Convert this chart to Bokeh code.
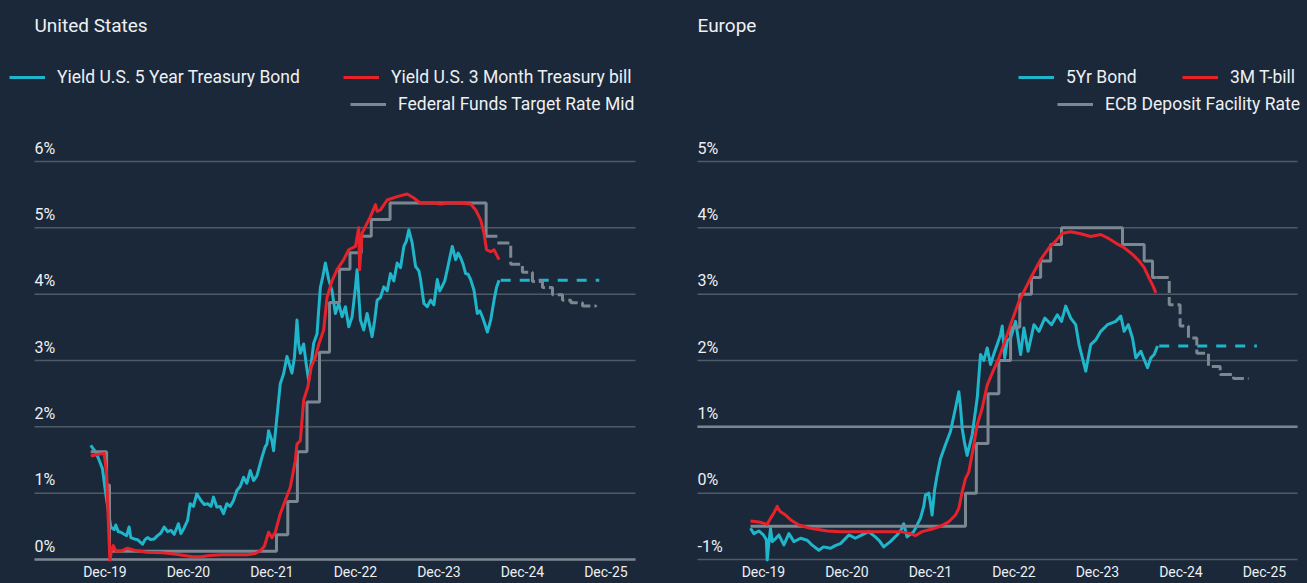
from bokeh.plotting import figure
from bokeh.models import Legend, LegendItem, FixedTicker, Range1d, Label
from bokeh.layouts import row
from bokeh.embed import file_html
from bokeh.resources import INLINE
from bokeh.core.properties import value

# ---------------- data (decimal years, percent) ----------------
x_tick_pos = [2020.15, 2021.15, 2022.15, 2023.15, 2024.15, 2025.15, 2026.15]
x_tick_labels = ["Dec-19", "Dec-20", "Dec-21", "Dec-22", "Dec-23", "Dec-24", "Dec-25"]

us_grid = [0, 1, 2, 3, 4, 5, 6]
us_grid_labels = ["0%", "1%", "2%", "3%", "4%", "5%", "6%"]
eu_grid = [-1, 0, 1, 2, 3, 4, 5]
eu_grid_labels = ["-1%", "0%", "1%", "2%", "3%", "4%", "5%"]

us_5y_t = [2019.98, 2020.04, 2020.08, 2020.12, 2020.16, 2020.22, 2020.26, 2020.28, 2020.31, 2020.34,
           2020.38, 2020.41, 2020.44, 2020.46, 2020.50, 2020.54, 2020.60, 2020.63, 2020.66, 2020.70,
           2020.74, 2020.78, 2020.82, 2020.86, 2020.90, 2020.94, 2020.98, 2021.03, 2021.06, 2021.10,
           2021.14, 2021.17, 2021.21, 2021.25, 2021.30, 2021.34, 2021.38, 2021.42, 2021.45, 2021.49,
           2021.53, 2021.57, 2021.61, 2021.65, 2021.69, 2021.73, 2021.77, 2021.81, 2021.85, 2021.89,
           2021.93, 2021.97, 2022.03, 2022.07, 2022.09, 2022.11, 2022.15, 2022.17, 2022.21, 2022.25,
           2022.29, 2022.33, 2022.39, 2022.42, 2022.45, 2022.47, 2022.49, 2022.53, 2022.56, 2022.59,
           2022.62, 2022.65, 2022.69, 2022.71, 2022.73, 2022.76, 2022.79, 2022.83, 2022.87, 2022.91,
           2022.95, 2022.99, 2023.03, 2023.07, 2023.11, 2023.15, 2023.17, 2023.21, 2023.25, 2023.29,
           2023.35, 2023.38, 2023.41, 2023.45, 2023.49, 2023.53, 2023.57, 2023.61, 2023.65, 2023.69,
           2023.73, 2023.76, 2023.79, 2023.83, 2023.87, 2023.91, 2023.93, 2023.97, 2024.01, 2024.05,
           2024.09, 2024.13, 2024.16, 2024.19, 2024.22, 2024.25, 2024.28, 2024.31, 2024.35, 2024.38,
           2024.41, 2024.44, 2024.47, 2024.50, 2024.53, 2024.57, 2024.61, 2024.64, 2024.67, 2024.70,
           2024.73, 2024.77, 2024.81, 2024.84, 2024.87]
us_5y_v = [1.72, 1.62, 1.50, 1.37, 0.99, 0.49, 0.45, 0.52, 0.42, 0.41,
           0.38, 0.36, 0.49, 0.33, 0.31, 0.30, 0.23, 0.30, 0.33, 0.30,
           0.31, 0.36, 0.40, 0.49, 0.42, 0.44, 0.38, 0.54, 0.39, 0.48,
           0.59, 0.84, 0.80, 0.99, 0.89, 0.83, 0.84, 0.80, 0.94, 0.79,
           0.80, 0.69, 0.84, 0.80, 0.89, 1.04, 1.10, 1.24, 1.15, 1.34,
           1.19, 1.26, 1.54, 1.70, 1.74, 1.94, 1.79, 1.64, 2.15, 2.65,
           2.80, 3.06, 2.81, 3.05, 3.61, 3.25, 3.11, 3.25, 2.95, 2.70,
           2.95, 3.26, 3.40, 3.76, 4.10, 4.27, 4.47, 4.22, 4.05, 3.71,
           3.86, 3.66, 3.81, 3.51, 3.66, 4.10, 4.37, 3.61, 3.46, 3.71,
           3.36, 3.60, 3.91, 3.95, 4.11, 4.05, 4.31, 4.20, 4.47, 4.40,
           4.72, 4.80, 4.97, 4.77, 4.42, 4.35, 4.22, 3.86, 3.81, 3.91,
           3.84, 4.22, 4.05, 4.12, 4.20, 4.37, 4.55, 4.72, 4.52, 4.62,
           4.55, 4.45, 4.31, 4.30, 4.22, 4.06, 3.71, 3.75, 3.66, 3.55,
           3.43, 3.61, 3.91, 4.10, 4.21]

us_3m_t = [2019.98, 2020.05, 2020.14, 2020.17, 2020.19, 2020.21, 2020.23, 2020.25, 2020.28, 2020.35,
           2020.42, 2020.50, 2020.65, 2020.85, 2021.00, 2021.10, 2021.20, 2021.30, 2021.40, 2021.55,
           2021.70, 2021.85, 2021.95, 2022.01, 2022.06, 2022.11, 2022.15, 2022.19, 2022.25, 2022.31,
           2022.37, 2022.43, 2022.45, 2022.49, 2022.53, 2022.58, 2022.62, 2022.67, 2022.71, 2022.77,
           2022.81, 2022.87, 2022.93, 2023.01, 2023.07, 2023.15, 2023.19, 2023.20, 2023.23, 2023.33,
           2023.39, 2023.41, 2023.45, 2023.53, 2023.65, 2023.77, 2023.85, 2023.93, 2024.05, 2024.17,
           2024.29, 2024.41, 2024.53, 2024.59, 2024.65, 2024.69, 2024.72, 2024.77, 2024.81, 2024.85,
           2024.87]
us_3m_v = [1.56, 1.58, 1.60, 1.30, 0.60, -0.02, 0.15, 0.21, 0.13, 0.13,
           0.17, 0.14, 0.11, 0.10, 0.08, 0.06, 0.04, 0.04, 0.06, 0.07,
           0.07, 0.07, 0.09, 0.13, 0.20, 0.41, 0.33, 0.41, 0.69, 0.89,
           1.09, 1.49, 1.74, 1.79, 2.40, 2.60, 2.90, 3.05, 3.24, 3.46,
           3.95, 4.20, 4.37, 4.52, 4.67, 4.72, 5.00, 4.37, 4.92, 5.17,
           5.35, 5.25, 5.27, 5.42, 5.47, 5.51, 5.45, 5.37, 5.38, 5.36,
           5.38, 5.37, 5.36, 5.27, 5.12, 4.92, 4.67, 4.64, 4.67, 4.57,
           4.52]

us_fed_t = [2019.98, 2020.17, 2020.205, 2022.205, 2022.34, 2022.455, 2022.57, 2022.72, 2022.84,
            2022.96, 2023.085, 2023.22, 2023.34, 2023.565, 2024.715, 2024.85]
us_fed_v = [1.625, 1.125, 0.125, 0.375, 0.875, 1.625, 2.375, 3.125, 3.875,
            4.375, 4.625, 4.875, 5.125, 5.375, 4.875, 4.875]
us_fed_fc_t = [2024.85, 2025.01, 2025.15, 2025.27, 2025.39, 2025.51, 2025.63, 2025.73, 2025.87, 2026.03]
us_fed_fc_v = [4.77, 4.45, 4.33, 4.19, 4.10, 3.99, 3.91, 3.87, 3.82, 3.81]
us_5y_fc_t = [2024.89, 2026.07]
us_5y_fc_v = [4.21, 4.21]

eu_5y_t = [2019.995, 2020.035, 2020.095, 2020.15, 2020.185, 2020.195, 2020.215, 2020.235, 2020.255, 2020.30,
           2020.335, 2020.395, 2020.455, 2020.515, 2020.595, 2020.674, 2020.73, 2020.814, 2020.87, 2020.954,
           2021.01, 2021.073, 2021.12, 2021.173, 2021.25, 2021.33, 2021.41, 2021.49, 2021.54, 2021.59,
           2021.67, 2021.75, 2021.80, 2021.83, 2021.87, 2021.95, 2022.03, 2022.07, 2022.09, 2022.13,
           2022.15, 2022.17, 2022.20, 2022.23, 2022.27, 2022.33, 2022.39, 2022.45, 2022.49, 2022.51,
           2022.53, 2022.56, 2022.59, 2022.65, 2022.71, 2022.75, 2022.79, 2022.83, 2022.87, 2022.91,
           2022.95, 2022.99, 2023.01, 2023.04, 2023.07, 2023.11, 2023.17, 2023.23, 2023.27, 2023.32,
           2023.39, 2023.45, 2023.52, 2023.60, 2023.67, 2023.72, 2023.77, 2023.83, 2023.89, 2023.93,
           2023.99, 2024.01, 2024.07, 2024.13, 2024.19, 2024.27, 2024.37, 2024.43, 2024.47, 2024.52,
           2024.57, 2024.61, 2024.67, 2024.75, 2024.79, 2024.83, 2024.87]
eu_5y_v = [-0.53, -0.61, -0.57, -0.63, -0.70, -1.01, -0.75, -0.53, -0.73, -0.68,
           -0.63, -0.78, -0.61, -0.73, -0.68, -0.71, -0.78, -0.86, -0.81, -0.83,
           -0.79, -0.76, -0.70, -0.63, -0.68, -0.63, -0.58, -0.66, -0.72, -0.81,
           -0.73, -0.63, -0.55, -0.46, -0.66, -0.58, -0.38, -0.20, -0.03, 0.00,
           -0.15, -0.33, 0.05, 0.27, 0.52, 0.73, 0.93, 1.28, 1.53, 1.30,
           0.98, 0.75, 0.57, 0.88, 1.43, 2.09, 2.00, 2.19, 1.94, 2.10,
           2.24, 2.39, 2.52, 2.04, 2.30, 2.34, 2.59, 2.09, 2.49, 2.14,
           2.54, 2.44, 2.64, 2.54, 2.69, 2.59, 2.82, 2.64, 2.54, 2.24,
           1.94, 1.84, 2.24, 2.31, 2.44, 2.54, 2.59, 2.67, 2.44, 2.54,
           2.34, 2.04, 2.14, 1.89, 2.04, 2.09, 2.22]

eu_3m_t = [2019.995, 2020.115, 2020.195, 2020.235, 2020.275, 2020.315, 2020.335, 2020.355, 2020.415, 2020.474,
           2020.574, 2020.714, 2020.914, 2021.073, 2021.47, 2021.79, 2021.91, 2021.97, 2022.05, 2022.17,
           2022.27, 2022.37, 2022.45, 2022.49, 2022.53, 2022.57, 2022.61, 2022.67, 2022.71, 2022.77,
           2022.83, 2022.89, 2022.97, 2023.03, 2023.11, 2023.21, 2023.27, 2023.37, 2023.47, 2023.57,
           2023.65, 2023.73, 2023.83, 2023.95, 2024.07, 2024.19, 2024.27, 2024.37, 2024.47, 2024.57,
           2024.65, 2024.71, 2024.77, 2024.81, 2024.85]
eu_3m_v = [-0.42, -0.44, -0.47, -0.38, -0.30, -0.20, -0.25, -0.28, -0.33, -0.40,
           -0.48, -0.53, -0.57, -0.58, -0.58, -0.58, -0.61, -0.64, -0.58, -0.54,
           -0.50, -0.43, -0.33, -0.23, 0.02, 0.22, 0.32, 0.73, 1.03, 1.28,
           1.63, 1.81, 2.04, 2.25, 2.54, 2.89, 3.04, 3.29, 3.52, 3.70,
           3.80, 3.92, 3.94, 3.91, 3.87, 3.90, 3.85, 3.77, 3.70, 3.60,
           3.50, 3.40, 3.24, 3.14, 3.02]

eu_ecb_t = [2019.995, 2022.57, 2022.70, 2022.84, 2022.97, 2023.11, 2023.22, 2023.36, 2023.47, 2023.59,
            2023.72, 2024.45, 2024.71, 2024.81, 2024.86]
eu_ecb_v = [-0.5, 0.0, 0.75, 1.5, 2.0, 2.5, 3.0, 3.25, 3.5, 3.75,
            4.0, 3.75, 3.5, 3.25, 3.25]
eu_ecb_fc_t = [2024.86, 2025.01, 2025.14, 2025.24, 2025.34, 2025.48, 2025.62, 2025.78, 2025.96]
eu_ecb_fc_v = [3.25, 2.84, 2.52, 2.34, 2.11, 1.91, 1.79, 1.73, 1.73]
eu_5y_fc_t = [2024.89, 2026.06]
eu_5y_fc_v = [2.22, 2.22]

# ---------------- style / layout ----------------
BG = "#1a2839"
TEAL = "#1fb5ca"
RED = "#e8222b"
GRAY = "#7d8792"
GRID = "#4f5a67"
BASE = "#7c8690"
TXT = "#eef0f3"
FONT = "Roboto"

PX = 66.33          # pixels per percentage point
PX_YEAR = 83.5      # pixels per year
FRAME_H = 561       # frame spans from the top of the figure down to here
GRID_LOW_PX = 559   # pixel row of the lowest gridline


def panel(title, fig_w, year0_px, grid_left, grid_right, grid_vals, grid_labels, base_val,
          s5_t, s5_v, s3_t, s3_v, pol_t, pol_v, pfc_t, pfc_v, d_t, d_v, legend_spec):
    x_start = 2020 - year0_px / PX_YEAR
    x_end = x_start + fig_w / PX_YEAR
    gx0 = x_start + grid_left / PX_YEAR
    gx1 = x_start + grid_right / PX_YEAR
    y_low = grid_vals[0]
    y_start = y_low - (FRAME_H - GRID_LOW_PX) / PX
    y_end = y_low + GRID_LOW_PX / PX

    p = figure(frame_width=fig_w, frame_height=FRAME_H,
               min_border_left=0, min_border_right=0, min_border_top=0, min_border_bottom=22,
               x_range=Range1d(x_start, x_end), y_range=Range1d(y_start, y_end),
               output_backend="svg", toolbar_location=None,
               background_fill_color=BG, border_fill_color=BG, outline_line_color=None)
    p.outline_line_alpha = 0
    p.yaxis.visible = False
    p.xgrid.visible = False
    p.ygrid.visible = False

    p.xaxis.ticker = FixedTicker(ticks=x_tick_pos)
    p.xaxis.major_label_overrides = dict(zip(x_tick_pos, x_tick_labels))
    p.xaxis.axis_line_color = None
    p.xaxis.major_tick_line_color = None
    p.xaxis.minor_tick_line_color = None
    p.xaxis.major_tick_out = 0
    p.xaxis.major_tick_in = 0
    p.xaxis.major_label_standoff = 2
    p.xaxis.major_label_text_font = FONT
    p.xaxis.major_label_text_font_size = "14px"
    p.xaxis.major_label_text_color = TXT

    # gridlines and the highlighted reference line
    n = len(grid_vals)
    p.segment(x0=[gx0] * n, x1=[gx1] * n, y0=grid_vals, y1=grid_vals,
              line_color=GRID, line_width=1.5)
    p.segment(x0=[gx0], x1=[gx1], y0=[base_val], y1=[base_val],
              line_color=BASE, line_width=2.5)

    # y tick labels sit above their gridlines
    p.text(x=[gx0] * n, y=grid_vals, text=grid_labels,
           text_align="left", text_baseline="bottom", y_offset=-4,
           text_font=value(FONT), text_font_size="16px", text_color=TXT)

    # title
    p.add_layout(Label(x=grid_left, y=FRAME_H - 25, x_units="screen", y_units="screen",
                       text=title, text_baseline="middle", text_align="left",
                       text_font=FONT, text_font_size="19px", text_color=TXT))

    r5 = p.line(s5_t, s5_v, line_color=TEAL, line_width=3, line_join="round")
    p.line(d_t, d_v, line_color=TEAL, line_width=3, line_dash="10 9")
    rp = p.step(pol_t, pol_v, mode="after", line_color=GRAY, line_width=3)
    p.step(pfc_t, pfc_v, mode="after", line_color=GRAY, line_width=3, line_dash="12 4")
    r3 = p.line(s3_t, s3_v, line_color=RED, line_width=3, line_join="round")

    rends = {"5y": r5, "3m": r3, "pol": rp}
    for key, label, left, cy in legend_spec:
        leg = Legend(items=[LegendItem(label=label, renderers=[rends[key]])],
                     location=(left, FRAME_H - cy - 10),
                     orientation="horizontal", padding=0, margin=0, spacing=0,
                     glyph_width=36, glyph_height=20, label_height=20, label_standoff=12,
                     label_text_font=FONT, label_text_font_size="17.5px",
                     label_text_color=TXT, border_line_alpha=0, background_fill_alpha=0)
        p.add_layout(leg)
    return p


us = panel("United States", 660, 91.9, 34, 635, us_grid, us_grid_labels, 0,
           us_5y_t, us_5y_v, us_3m_t, us_3m_v, us_fed_t, us_fed_v, us_fed_fc_t, us_fed_fc_v,
           us_5y_fc_t, us_5y_fc_v,
           [("5y", "Yield U.S. 5 Year Treasury Bond", 9, 77),
            ("3m", "Yield U.S. 3 Month Treasury bill", 343, 77),
            ("pol", "Federal Funds Target Rate Mid", 350, 104)])

eu = panel("Europe", 647, 90.4, 37, 637, eu_grid, eu_grid_labels, 1,
           eu_5y_t, eu_5y_v, eu_3m_t, eu_3m_v, eu_ecb_t, eu_ecb_v, eu_ecb_fc_t, eu_ecb_fc_v,
           eu_5y_fc_t, eu_5y_fc_v,
           [("5y", "5Yr Bond", 358, 77),
            ("3m", "3M T-bill", 522, 77),
            ("pol", "ECB Deposit Facility Rate", 397, 104)])

layout = row(us, eu, spacing=0, styles={"background-color": BG})

open("out.html", "w").write(file_html(layout, INLINE))
